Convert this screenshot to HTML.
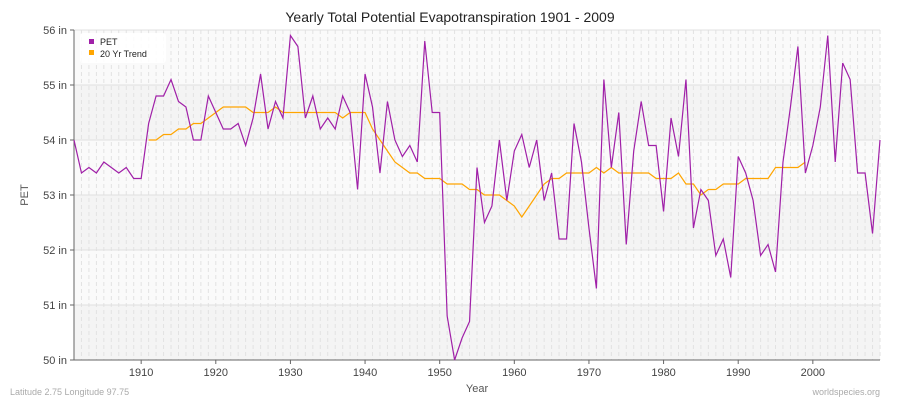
<!DOCTYPE html>
<html><head><meta charset="utf-8"><style>
body{margin:0;background:#fff;font-family:"Liberation Sans",sans-serif;}
svg text{font-family:"Liberation Sans",sans-serif;}
</style></head><body>
<svg id="chart" width="900" height="400">
<text x="450" y="22" text-anchor="middle" font-size="14" fill="#222">Yearly Total Potential Evapotranspiration 1901 - 2009</text>
<g id="bands"></g><g id="grid"></g><g id="axes"></g>
<polyline id="trend" fill="none" stroke="#ffa500" stroke-width="1.2"/>
<polyline id="pet" fill="none" stroke="#a020a8" stroke-width="1.2"/>
<g>
<rect x="80" y="33" width="86" height="30" fill="#fff" opacity="0.9" rx="3"/>
<rect x="89" y="39" width="5" height="5" fill="#a020a8"/>
<text x="100" y="45" font-size="9" fill="#222">PET</text>
<rect x="89" y="50" width="5" height="5" fill="#ffa500"/>
<text x="100" y="57" font-size="9" fill="#222">20 Yr Trend</text>
</g>
<text x="28" y="195" font-size="11" fill="#555" text-anchor="middle" transform="rotate(-90 28 195)">PET</text>
<text x="477" y="392" font-size="11" fill="#555" text-anchor="middle">Year</text>
<text x="10" y="395" font-size="9" fill="#aaa">Latitude 2.75 Longitude 97.75</text>
<text x="880" y="395" font-size="9" fill="#aaa" text-anchor="end">worldspecies.org</text>
</svg>
<script>
const startYear=1901;
const petValues=[54.0,53.4,53.5,53.4,53.6,53.5,53.4,53.5,53.3,53.3,54.3,54.8,54.8,55.1,54.7,54.6,54.0,54.0,54.8,54.5,54.2,54.2,54.3,53.9,54.4,55.2,54.2,54.7,54.4,55.9,55.7,54.4,54.8,54.2,54.4,54.2,54.8,54.5,53.1,55.2,54.6,53.4,54.7,54.0,53.7,53.9,53.6,55.8,54.5,54.5,50.8,50.0,50.4,50.7,53.5,52.5,52.8,54.0,52.9,53.8,54.1,53.5,54.0,52.9,53.4,52.2,52.2,54.3,53.6,52.4,51.3,55.1,53.5,54.5,52.1,53.8,54.7,53.9,53.9,52.7,54.4,53.7,55.1,52.4,53.1,52.9,51.9,52.2,51.5,53.7,53.4,52.9,51.9,52.1,51.6,53.6,54.6,55.7,53.4,53.9,54.6,55.9,53.6,55.4,55.1,53.4,53.4,52.3,54.0];
const trendStart=1911;
const trendValues=[54.0,54.0,54.1,54.1,54.2,54.2,54.3,54.3,54.4,54.5,54.6,54.6,54.6,54.6,54.5,54.5,54.5,54.6,54.5,54.5,54.5,54.5,54.5,54.5,54.5,54.5,54.4,54.5,54.5,54.5,54.2,54.0,53.8,53.6,53.5,53.4,53.4,53.3,53.3,53.3,53.2,53.2,53.2,53.1,53.1,53.0,53.0,53.0,52.9,52.8,52.6,52.8,53.0,53.2,53.3,53.3,53.4,53.4,53.4,53.4,53.5,53.4,53.5,53.4,53.4,53.4,53.4,53.4,53.3,53.3,53.3,53.4,53.2,53.2,53.0,53.1,53.1,53.2,53.2,53.2,53.3,53.3,53.3,53.3,53.5,53.5,53.5,53.5,53.6];
const yTicks=[50,51,52,53,54,55,56];
const xTicks=[1910,1920,1930,1940,1950,1960,1970,1980,1990,2000];
const L=74,R=880,T=30,B=360,yMin=50,yMax=56,xMin=1901,xMax=2009;
const X=y=>L+(y-xMin)*(R-L)/(xMax-xMin);
const Y=v=>B-(v-yMin)*(B-T)/(yMax-yMin);
const NS='http://www.w3.org/2000/svg';
function mk(t,a,p){const e=document.createElementNS(NS,t);for(const k in a)e.setAttribute(k,a[k]);p.appendChild(e);return e;}
const bands=document.getElementById('bands'),grid=document.getElementById('grid'),axes=document.getElementById('axes');
for(let v=yMin;v<yMax;v++){const r=mk('rect',{x:L,y:Y(v+1),width:R-L,height:Y(v)-Y(v+1),fill:(v%2===0)?'#f4f4f4':'#fafafa'},bands);

}
for(let yr=xMin;yr<=xMax;yr++){const l=mk('line',{x1:X(yr),x2:X(yr),y1:T,y2:B,stroke:'#e2e2e2','stroke-dasharray':'4,3','stroke-width':1},grid);

}
yTicks.forEach(v=>{const l=mk('line',{x1:L,x2:R,y1:Y(v),y2:Y(v),stroke:'#e0e0e0'},grid);


const t=mk('text',{x:L-7,y:Y(v)+4,'text-anchor':'end','font-size':11,fill:'#444'},axes);t.textContent=v+' in';


mk('line',{x1:L-4,x2:L,y1:Y(v),y2:Y(v),stroke:'#666'},axes);});
mk('line',{x1:L,x2:L,y1:T,y2:B,stroke:'#666'},axes);
mk('line',{x1:L,x2:R,y1:B,y2:B,stroke:'#666'},axes);
xTicks.forEach(yr=>{mk('line',{x1:X(yr),x2:X(yr),y1:B,y2:B+4,stroke:'#666'},axes);
const t=mk('text',{x:X(yr),y:B+16,'text-anchor':'middle','font-size':11,fill:'#444'},axes);t.textContent=yr;

});
document.getElementById('pet').setAttribute('points',petValues.map((v,i)=>X(startYear+i)+','+Y(v)).join(' '));
document.getElementById('trend').setAttribute('points',trendValues.map((v,i)=>X(trendStart+i)+','+Y(v)).join(' '));
</script>
</body></html>
